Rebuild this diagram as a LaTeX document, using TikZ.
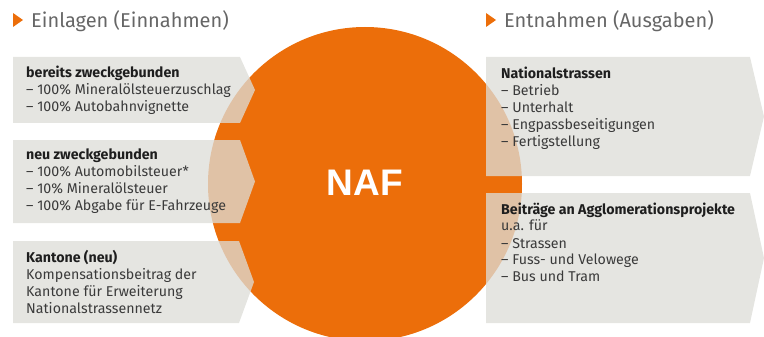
\documentclass[tikz,border=0pt]{standalone}
\usepackage{fontspec}
\setmainfont{Fira Sans}
\newfontfamily\naffont{Liberation Sans}
\usetikzlibrary{calc}
\definecolor{nafor}{HTML}{EC6E0A}
\definecolor{boxgray}{RGB}{221,221,216}
\definecolor{headgray}{HTML}{666666}
\definecolor{txtgray}{HTML}{3A3A3A}
\definecolor{boldgray}{HTML}{1E1E1E}
\tikzset{
  arrowbox/.style={fill=boxgray, fill opacity=0.76, draw=none},
  boxtext/.style={anchor=base west, inner sep=0pt, text=txtgray,
    font=\fontsize{14.2}{17}\selectfont},
  headtext/.style={anchor=base west, inner sep=0pt, text=headgray,
    font=\fontsize{20}{24}\selectfont},
  headmark/.style={fill=nafor, draw=none},
}
\newcommand{\bh}[1]{\textbf{\color{boldgray}#1}}
\newcommand{\lines}[1]{\begin{tabular}[t]{@{}l@{}}#1\end{tabular}}
\begin{document}
\begin{tikzpicture}[x=1pt,y=-1pt]
\useasboundingbox (0,0) rectangle (764,337);
\clip (0,0) rectangle (764,337);
% circle
\fill[nafor] (365,184) circle (157);
\node[text=white, anchor=base, inner sep=0pt, font=\naffont\fontsize{37}{40}\selectfont\bfseries] (naf) at (365,195) {NAF};
% headers
\fill[headmark] (13,13) -- (23,20) -- (13,27) -- cycle;
\node[headtext] (hin) at (31,28) {Einlagen (Einnahmen)};
\fill[headmark] (486,13) -- (496,20) -- (486,27) -- cycle;
\node[headtext] (hout) at (504,28) {Entnahmen (Ausgaben)};
% left boxes
\fill[arrowbox] (13,57) -- (240,57) -- (255,90) -- (240,123) -- (13,123) -- cycle;
\fill[arrowbox] (13,140) -- (240,140) -- (255,181.5) -- (240,223) -- (13,223) -- cycle;
\fill[arrowbox] (13,241) -- (239,241) -- (254,282) -- (239,323) -- (13,323) -- cycle;
% right boxes
\fill[arrowbox] (486,57) -- (750,57) -- (764,116.5) -- (750,176) -- (486,176) -- cycle;
\fill[arrowbox] (486,193) -- (750,193) -- (764,258) -- (750,323) -- (486,323) -- cycle;
% texts
\node[boxtext] (t1) at (26,78) {\lines{\bh{bereits zweckgebunden}\\– 100\% Mineralölsteuerzuschlag\\– 100\% Autobahnvignette}};
\node[boxtext] (t2) at (26,160) {\lines{\bh{neu zweckgebunden}\\– 100\% Automobilsteuer*\\– 10\% Mineralölsteuer\\– 100\% Abgabe für E-Fahrzeuge}};
\node[boxtext] (t3) at (26,262) {\lines{\bh{Kantone (neu)}\\Kompensationsbeitrag der\\Kantone für Erweiterung\\Nationalstrassennetz}};
\node[boxtext] (t4) at (501,79) {\lines{\bh{Nationalstrassen}\\– Betrieb\\– Unterhalt\\– Engpassbeseitigungen\\– Fertigstellung}};
\node[boxtext] (t5) at (501,214) {\lines{\bh{Beiträge an Agglomerationsprojekte}\\u.a. für\\– Strassen\\– Fuss- und Velowege\\– Bus und Tram}};
\end{tikzpicture}
\end{document}
